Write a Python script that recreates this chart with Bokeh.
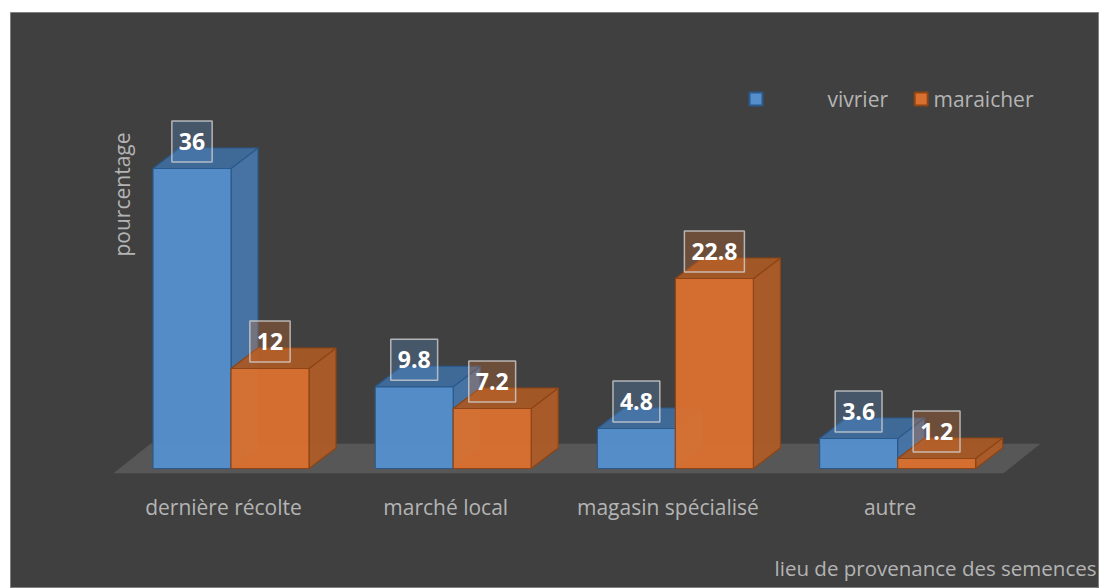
from bokeh.plotting import figure
from bokeh.embed import file_html
from bokeh.resources import INLINE
from bokeh.core.properties import value

# ---------------- data ----------------
categories = ["dernière récolte", "marché local", "magasin spécialisé", "autre"]
series_names = ["vivrier", "maraicher"]
vivrier = [36, 9.8, 4.8, 3.6]
maraicher = [12, 7.2, 22.8, 1.2]
x_title = "lieu de provenance des semences"
y_title = "pourcentage"

# ---------------- styling / layout ----------------
W, H = 1099, 588
BL, BT = 10, 12
FW, FH = W - BL, H - BT
PX_X = 222.2          # px per category
PX_Y = 8.333          # px per percent
CAT0_PX = 220.5       # frame px of first category centre
FLOOR_PX = 456        # frame px of floor (value 0)
X_START = -CAT0_PX / PX_X
X_END = X_START + FW / PX_X
Y_END = FLOOR_PX / PX_Y
Y_START = Y_END - FH / PX_Y

def fx(page_x):
    return X_START + (page_x - BL) / PX_X

def fy(page_y):
    return Y_END - (page_y - BT) / PX_Y

BW = 78 / PX_X
DX = 27 / PX_X
DY = 20.5 / PX_Y

BG = "#404040"
TXT = "#B4B4B4"
colors = {
    "vivrier": dict(front="#558ECB", side="#4876AA", top="#3F6C9C", line="#2A5A8C"),
    "maraicher": dict(front="#D8702F", side="#AE5C27", top="#A85826", line="#8E4414"),
}

p = figure(width=W, height=H, output_backend="svg", toolbar_location=None,
           x_range=(X_START, X_END), y_range=(Y_START, Y_END),
           x_axis_type=None, y_axis_type=None,
           min_border_left=BL, min_border_top=BT, min_border_right=0, min_border_bottom=0,
           border_fill_color="white", background_fill_color=BG,
           outline_line_color="#808080", outline_line_width=1)
p.grid.visible = False

# floor
p.patch([fx(113), fx(1003), fx(1040), fx(150)],
        [fy(472.7), fy(472.7), fy(443.3), fy(443.3)],
        fill_color="#575757", line_color=None)

# 3D bars
for s, (name, vals) in enumerate(zip(series_names, [vivrier, maraicher])):
    c = colors[name]
    lefts, rights, tops = [], [], []
    side_xs, side_ys, top_xs, top_ys = [], [], [], []
    for i, v in enumerate(vals):
        x0 = i - BW + s * BW
        x1 = x0 + BW
        lefts.append(x0); rights.append(x1); tops.append(v)
        side_xs.append([x1, x1 + DX, x1 + DX, x1])
        side_ys.append([0, DY, v + DY, v])
        top_xs.append([x0, x1, x1 + DX, x0 + DX])
        top_ys.append([v, v, v + DY, v + DY])
    p.patches(side_xs, side_ys, fill_color=c["side"], line_color=c["line"], line_width=1.2, fill_alpha=0.95)
    p.patches(top_xs, top_ys, fill_color=c["top"], line_color=c["line"], line_width=1.2, fill_alpha=0.95)
    p.quad(left=lefts, right=rights, bottom=[0] * len(vals), top=tops,
           fill_color=c["front"], line_color=c["line"], line_width=1.2, fill_alpha=0.97)

# value labels
for s, (name, vals) in enumerate(zip(series_names, [vivrier, maraicher])):
    c = colors[name]
    xs = [i - BW / 2 + s * BW for i in range(len(vals))]
    ys = [v + 27 / PX_Y for v in vals]
    p.text(xs, ys, text=[f"{v:g}" for v in vals], text_color="white",
           text_font=value("Open Sans"), text_font_style="bold", text_font_size="23px",
           text_align="center", text_baseline="middle",
           background_fill_color=c["front"], background_fill_alpha=0.3,
           border_line_color="#D0D0D0", border_line_alpha=0.8, border_line_width=1.5,
           padding=(7, 12))

# category labels
p.text([i - 7.5 / PX_X for i in range(len(categories))], [fy(506)] * len(categories),
       text=categories, text_color=TXT, text_font=value("Open Sans"),
       text_font_size="21px", text_align="center", text_baseline="middle")

# axis titles
p.text([fx(121.5)], [fy(194)], text=[y_title], angle=1.5708, text_color=TXT,
       text_font=value("Open Sans"), text_font_size="21px",
       text_align="center", text_baseline="middle")
p.text([fx(1096)], [fy(567)], text=[x_title], text_color=TXT,
       text_font=value("Open Sans"), text_font_size="20.5px",
       text_align="right", text_baseline="middle")

# legend
leg_x = [fx(755.5), fx(920.7)]
leg_tx = [fx(827), fx(933)]
for k, name in enumerate(series_names):
    c = colors[name]
    p.scatter([leg_x[k]], [fy(98.5)], marker="square", size=13,
              fill_color=c["front"], line_color=c["line"], line_width=2)
    p.text([leg_tx[k]], [fy(98.5)], text=[name], text_color=TXT,
           text_font=value("Open Sans"), text_font_size="21px",
           text_align="left", text_baseline="middle")

open("out.html", "w").write(file_html(p, INLINE))
